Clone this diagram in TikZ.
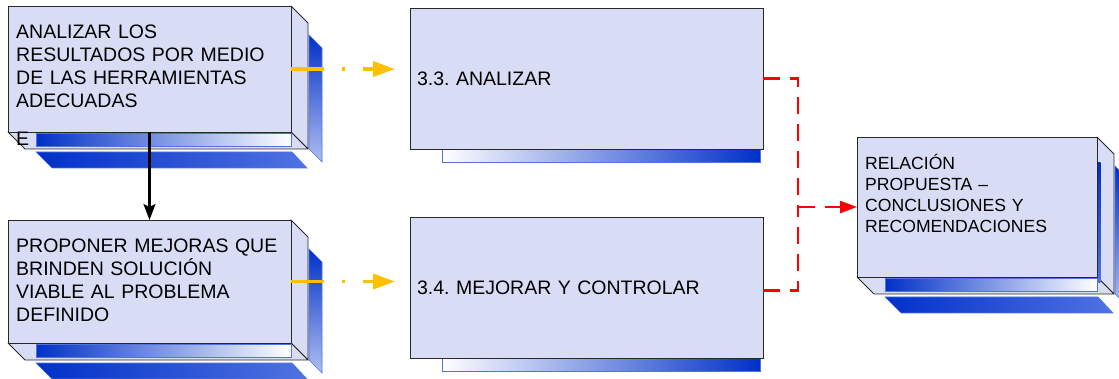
\documentclass[tikz,border=0pt]{standalone}
\usepackage{fontspec}
\setmainfont{Liberation Sans}
\usetikzlibrary{arrows.meta}
\frenchspacing
\definecolor{lav}{RGB}{217,220,245}
\definecolor{dblue}{RGB}{0,48,200}
\definecolor{mblue}{RGB}{80,115,225}
\definecolor{lblue}{RGB}{175,190,240}
\definecolor{ylw}{RGB}{255,192,0}
\definecolor{edge}{RGB}{40,40,40}
\tikzset{
  face/.style={draw=edge, line width=0.9pt, fill=lav, inner sep=0pt, outer sep=0pt},
  sideface/.style={draw=edge, line width=0.8pt, fill=lav, line join=round},
  bigtxt/.style={font=\fontsize{19.5}{23}\selectfont, text width=290pt, align=left, inner sep=0pt, anchor=base west},
  smalltxt/.style={font=\fontsize{17.6}{21}\selectfont, text width=230pt, align=left, inner sep=0pt, anchor=base west},
  flattxt/.style={font=\fontsize{19.5}{23}\selectfont, align=left},
  yarrow/.style={ylw, line width=3.5pt, dash pattern=on 33pt off 18pt on 3pt off 18pt on 60pt off 10pt, -{Triangle[length=22pt,width=15pt]}},
  rdash/.style={red, line width=2.2pt, dash pattern=on 17pt off 10pt},
  karrow/.style={black, line width=2.2pt, -{Stealth[length=16pt,width=12pt,inset=3pt]}}
}
% #1 L, #2 T, #3 R, #4 B
\newcommand{\cubeparts}[4]{%
  \path[top color=dblue, bottom color=lblue, draw=mblue, line width=0.6pt]
    (#3+18,#2+29) -- (#3+31,#2+42) -- (#3+31,#4+30) -- (#3+18,#4+17) -- cycle;
  \path[left color=dblue, right color=mblue, draw=mblue, line width=0.6pt]
    (#1+28,#4+20) -- (#3+1,#4+20) -- (#3+16,#4+36) -- (#1+44,#4+36) -- cycle;
  \draw[sideface] (#3,#2) -- (#3+17,#2+17) -- (#3+17,#4+17) -- (#3,#4) -- cycle;
  \draw[sideface] (#1,#4) -- (#3,#4) -- (#3+17,#4+17) -- (#1+17,#4+17) -- cycle;
  \path[left color=dblue, right color=white, draw=mblue, line width=0.5pt]
    (#1+28,#4+1) rectangle (#3,#4+14);
}
\begin{document}
\begin{tikzpicture}[x=1pt,y=-1pt]
\useasboundingbox (0,0) rectangle (1119,379);
\clip (0,0) rectangle (1119,379);

% box 1
\cubeparts{8}{6}{291}{132}
\node[face, minimum width=283pt, minimum height=126pt] (b1) at (149.5,69) {};
\node[bigtxt] (t1) at (16,39) {ANALIZAR LOS\\RESULTADOS POR MEDIO\\DE LAS HERRAMIENTAS\\ADECUADAS};
\node[bigtxt] (t1e) at (16,146) {E};

% box 2
\cubeparts{8}{220}{291}{343}
\node[face, minimum width=283pt, minimum height=123pt] (b2) at (149.5,281.5) {};
\node[bigtxt] (t2) at (16,253) {PROPONER MEJORAS QUE\\BRINDEN SOLUCIÓN\\VIABLE AL PROBLEMA\\DEFINIDO};

% box 3
\path[left color=white, right color=dblue, draw=mblue, line width=0.6pt] (442,149) rectangle (760,162);
\node[face, flattxt, minimum width=353pt, minimum height=141pt, text width=339pt] (b3) at (586.5,78.5) {3.3. ANALIZAR};

% box 4
\path[left color=white, right color=dblue, draw=mblue, line width=0.6pt] (442,358) rectangle (760,371);
\node[face, flattxt, minimum width=353pt, minimum height=141pt, text width=339pt] (b4) at (586.5,287.5) {3.4. MEJORAR Y CONTROLAR};

% box 5
\cubeparts{857}{137}{1097}{277}
\path[top color=dblue, bottom color=mblue] (1098,163) rectangle (1100.5,283);
\node[face, minimum width=240pt, minimum height=140pt] (b5) at (977,207) {};
\node[smalltxt] (t5) at (865,170) {RELACIÓN\\PROPUESTA –\\CONCLUSIONES Y\\RECOMENDACIONES};

% connectors
\coordinate (ya) at (395,69);
\coordinate (yb) at (395,281.5);
\coordinate (j) at (798,207);
\draw[karrow] (b1.south) -- (b2.north);
\draw[yarrow] (b1.east) -- (ya);
\draw[yarrow] (b2.east) -- (yb);
\draw[rdash] (b3.east) -| (j);
\draw[rdash] ([yshift=-3pt]b4.east) -| (j);
\draw[rdash, -{Triangle[length=17pt,width=12pt]}] (j) -- (b5.west);
\end{tikzpicture}
\end{document}
